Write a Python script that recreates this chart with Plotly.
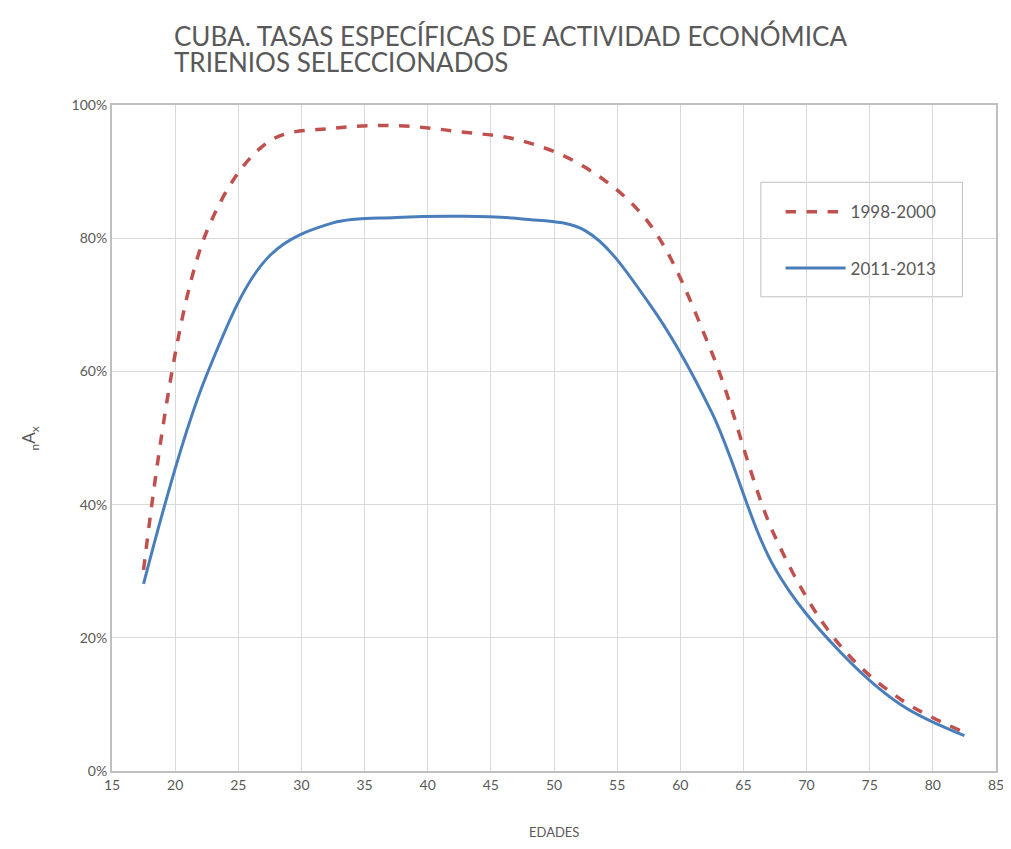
import plotly.graph_objects as go

# age groups (midpoints of 5-year groups)
edades = [17.5, 22.5, 27.5, 32.5, 37.5, 42.5, 47.5, 52.5, 57.5, 62.5, 67.5, 72.5, 77.5, 82.5]

# specific activity rates, %
tasas_1998_2000 = [30.2, 81.0, 94.6, 96.5, 96.9, 96.0, 94.6, 90.6, 82.3, 62.8, 35.2, 19.2, 10.7, 5.8]
tasas_2011_2013 = [28.1, 59.5, 77.4, 82.3, 83.1, 83.3, 82.9, 81.1, 70.3, 53.8, 30.4, 18.2, 9.9, 5.3]

titulo = ["CUBA. TASAS ESPECÍFICAS DE ACTIVIDAD ECONÓMICA", "TRIENIOS SELECCIONADOS"]

gray_txt = "#595959"
fnt = "Lato, Carlito, Calibri, sans-serif"

fig = go.Figure()
fig.add_trace(go.Scatter(
    x=edades, y=[v / 100 for v in tasas_1998_2000], name="1998-2000",
    mode="lines", line=dict(color="#c0504d", width=3.5, dash="dash", shape="spline", smoothing=1),
    legendgroup="a",
))
fig.add_trace(go.Scatter(
    x=edades, y=[v / 100 for v in tasas_2011_2013], name="2011-2013",
    mode="lines", line=dict(color="#4a7ebb", width=3, shape="spline", smoothing=1),
    legendgroup="b",
))

annotations = []
# title, one annotation per line to keep the tight line spacing
annotations.append(dict(text=titulo[0], xref="paper", yref="paper", x=0.0676, y=1.1036,
                        xanchor="left", yanchor="middle", showarrow=False,
                        font=dict(family=fnt, size=26, color=gray_txt)))
annotations.append(dict(text=titulo[1], xref="paper", yref="paper", x=0.0676, y=1.0646,
                        xanchor="left", yanchor="middle", showarrow=False,
                        font=dict(family=fnt, size=26, color=gray_txt)))
# axis titles as annotations so the margins stay fixed
annotations.append(dict(text="EDADES", xref="paper", yref="paper", x=0.5, y=-0.0916,
                        xanchor="center", yanchor="middle", showarrow=False,
                        font=dict(family=fnt, size=13, color=gray_txt)))
annotations.append(dict(text="<sub>n</sub>A<sub>x</sub>", xref="paper", yref="paper", x=-0.0923, y=0.5,
                        xanchor="center", yanchor="middle", showarrow=False, textangle=-90,
                        font=dict(family=fnt, size=17, color=gray_txt)))

# the page body keeps an 8px margin, so the figure is sized to fit inside the window
fig.update_layout(
    width=995, height=833,
    paper_bgcolor="white", plot_bgcolor="white",
    margin=dict(l=104, r=7, t=97, b=70),
    font=dict(family=fnt, color=gray_txt),
    showlegend=True,
    legend=dict(
        x=0.745, y=0.866, xanchor="left", yanchor="top",
        borderwidth=0, bgcolor="rgba(0,0,0,0)",
        font=dict(family=fnt, size=17, color=gray_txt),
        itemwidth=60, tracegroupgap=31, indentation=10,
    ),
    shapes=[dict(
        type="rect", xref="paper", yref="paper",
        x0=0.734, x1=0.962, y0=0.712, y1=0.884,
        line=dict(color="#bfbfbf", width=1), fillcolor="white", layer="below",
    )],
    annotations=annotations,
)

fig.update_xaxes(
    range=[15, 85], dtick=5, tick0=15,
    showgrid=True, gridcolor="#d9d9d9", gridwidth=1,
    showline=True, linecolor="#bfbfbf", linewidth=2, mirror=True,
    zeroline=False, ticks="", ticklabeloverflow="allow", automargin=False,
    tickfont=dict(family=fnt, size=14, color=gray_txt),
)
fig.update_yaxes(
    range=[0, 1], dtick=0.2, tickformat=".0%",
    showgrid=True, gridcolor="#d9d9d9", gridwidth=1,
    showline=True, linecolor="#bfbfbf", linewidth=2, mirror=True,
    zeroline=False, ticks="", automargin=False,
    tickfont=dict(family=fnt, size=14, color=gray_txt),
)

fig.write_html("out.html")
